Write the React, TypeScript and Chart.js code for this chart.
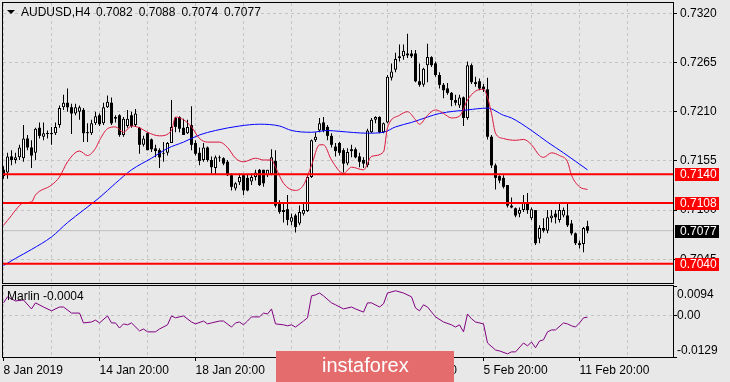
import React, { useEffect, useRef } from "react";
import { Chart, registerables } from "chart.js";

Chart.register(...registerables);

// ---------------- data ----------------
const SYMBOL = "AUDUSD,H4";
const LAST_OHLC = ["0.7082", "0.7088", "0.7074", "0.7077"];
const INDICATOR_LABEL = "Marlin -0.0004";
const WATERMARK = "instaforex";

const OPEN = [
  0.7145, 0.7142, 0.716, 0.7156, 0.7159, 0.7158, 0.718, 0.717, 0.7164, 0.7192,
  0.7182, 0.7185, 0.7186, 0.7186, 0.7195, 0.7215, 0.722, 0.7215, 0.7208, 0.721,
  0.7212, 0.7187, 0.7186, 0.7197, 0.7206, 0.7197, 0.7215, 0.722, 0.7202, 0.7206,
  0.7184, 0.7194, 0.7206, 0.7195, 0.7192, 0.7173, 0.7186, 0.7179, 0.7169, 0.7167,
  0.7163, 0.7164, 0.7175, 0.7203, 0.7204, 0.7192, 0.7186, 0.7195, 0.7175, 0.7164,
  0.7156, 0.717, 0.7156, 0.7147, 0.7158, 0.7158, 0.7154, 0.7139, 0.7124, 0.7131,
  0.7139, 0.7136, 0.7132, 0.7137, 0.7145, 0.7145, 0.7139, 0.714, 0.7155, 0.7108,
  0.7098, 0.7101, 0.7087, 0.7094, 0.7085, 0.7096, 0.7099, 0.7137, 0.7178, 0.7189,
  0.7198, 0.7193, 0.7183, 0.7171, 0.7175, 0.7167, 0.7152, 0.7168, 0.7168, 0.716,
  0.7156, 0.715, 0.7187, 0.7201, 0.7204, 0.7187, 0.7198, 0.7248, 0.7257, 0.727,
  0.7272, 0.7275, 0.7275, 0.7275, 0.7244, 0.724, 0.7262, 0.7271, 0.7264, 0.7251,
  0.724, 0.7236, 0.7231, 0.7223, 0.7217, 0.7226, 0.7203, 0.7262, 0.7243, 0.7244,
  0.7238, 0.7235, 0.7182, 0.715, 0.7138, 0.7136, 0.7128, 0.7105, 0.7102, 0.7096,
  0.71, 0.7109, 0.7091, 0.71, 0.7068, 0.708, 0.7077, 0.7091, 0.7096, 0.7089,
  0.7094, 0.7094, 0.7085, 0.7074, 0.7063, 0.7062, 0.7082,
];
const HIGH = [
  0.7149, 0.7164, 0.7167, 0.7164, 0.7173, 0.7195, 0.7184, 0.7178, 0.7192, 0.7198,
  0.7198, 0.7189, 0.7193, 0.7198, 0.7217, 0.7229, 0.7236, 0.7219, 0.7219, 0.7217,
  0.7214, 0.7197, 0.7201, 0.721, 0.7208, 0.722, 0.7228, 0.7226, 0.7206, 0.7207,
  0.7204, 0.7212, 0.721, 0.7213, 0.7193, 0.7183, 0.7187, 0.718, 0.7173, 0.7169,
  0.7176, 0.7176, 0.7223, 0.7204, 0.7205, 0.7202, 0.7201, 0.7216, 0.7178, 0.717,
  0.7175, 0.7171, 0.716, 0.7161, 0.7161, 0.7159, 0.7156, 0.7141, 0.7131, 0.7141,
  0.7139, 0.714, 0.7141, 0.7145, 0.7146, 0.7145, 0.7145, 0.7168, 0.7167, 0.7111,
  0.7109, 0.7117, 0.7096, 0.7096, 0.7105, 0.7108, 0.7139, 0.7179, 0.7187, 0.7203,
  0.7204, 0.7195, 0.7186, 0.7175, 0.7176, 0.7169, 0.7169, 0.7173, 0.717, 0.7164,
  0.7159, 0.7191, 0.7203, 0.7205, 0.7205, 0.7198, 0.7251, 0.7264, 0.7276, 0.7285,
  0.7285, 0.7297, 0.7279, 0.7279, 0.7264, 0.7259, 0.7286, 0.7272, 0.7266, 0.7254,
  0.7242, 0.7242, 0.7232, 0.7229, 0.7229, 0.7227, 0.7266, 0.7264, 0.7249, 0.7247,
  0.7241, 0.7248, 0.7184, 0.7152, 0.7139, 0.7139, 0.7128, 0.7114, 0.7103, 0.7103,
  0.7117, 0.7119, 0.7103, 0.71, 0.7083, 0.7091, 0.71, 0.71, 0.71, 0.7109,
  0.7103, 0.7108, 0.7089, 0.7075, 0.7066, 0.7081, 0.7088,
];
const LOW = [
  0.7135, 0.7135, 0.715, 0.7152, 0.7156, 0.7154, 0.7167, 0.7147, 0.7156, 0.718,
  0.7178, 0.718, 0.7173, 0.7184, 0.7192, 0.7212, 0.721, 0.7185, 0.7206, 0.7201,
  0.7176, 0.7176, 0.7184, 0.7195, 0.7194, 0.7195, 0.7214, 0.7195, 0.7198, 0.7182,
  0.7182, 0.7192, 0.7192, 0.7193, 0.7163, 0.7171, 0.7167, 0.7165, 0.7159, 0.7147,
  0.7154, 0.7161, 0.7175, 0.7187, 0.7187, 0.7184, 0.7185, 0.7167, 0.7161, 0.715,
  0.7154, 0.7154, 0.7141, 0.714, 0.7154, 0.715, 0.7138, 0.7122, 0.7122, 0.7128,
  0.7117, 0.7121, 0.7128, 0.7133, 0.7127, 0.7126, 0.7137, 0.7139, 0.7103, 0.7096,
  0.7086, 0.7083, 0.7083, 0.7075, 0.7083, 0.7094, 0.7098, 0.7136, 0.7176, 0.7187,
  0.7187, 0.7178, 0.717, 0.716, 0.7161, 0.7142, 0.715, 0.7159, 0.7158, 0.7148,
  0.7147, 0.7148, 0.7186, 0.7197, 0.7186, 0.7186, 0.7197, 0.7245, 0.7254, 0.7266,
  0.7268, 0.727, 0.727, 0.7243, 0.7238, 0.7238, 0.7243, 0.726, 0.7249, 0.7236,
  0.7225, 0.7229, 0.7216, 0.7217, 0.7214, 0.7194, 0.7201, 0.7241, 0.7238, 0.7234,
  0.7232, 0.7179, 0.7147, 0.7123, 0.713, 0.7124, 0.7103, 0.7102, 0.7092, 0.7092,
  0.7098, 0.7096, 0.7089, 0.7061, 0.7063, 0.7075, 0.7074, 0.7086, 0.7085, 0.7086,
  0.7092, 0.7081, 0.7072, 0.7061, 0.7057, 0.7053, 0.7074,
];
const CLOSE = [
  0.7138, 0.716, 0.7156, 0.7159, 0.717, 0.718, 0.717, 0.7161, 0.7191, 0.7183,
  0.7186, 0.7186, 0.7185, 0.7193, 0.7214, 0.722, 0.7215, 0.7208, 0.7215, 0.7215,
  0.7186, 0.7186, 0.7197, 0.7205, 0.7196, 0.7215, 0.7221, 0.7197, 0.7204, 0.7184,
  0.7202, 0.7202, 0.7194, 0.7208, 0.7173, 0.718, 0.7167, 0.7168, 0.7166, 0.7159,
  0.7164, 0.7175, 0.7193, 0.7193, 0.7191, 0.7184, 0.7193, 0.7173, 0.7163, 0.7155,
  0.717, 0.7156, 0.7148, 0.7159, 0.7159, 0.7152, 0.7139, 0.7126, 0.713, 0.7137,
  0.7122, 0.7122, 0.7137, 0.7142, 0.7128, 0.713, 0.7145, 0.7159, 0.7105, 0.7098,
  0.71, 0.7089, 0.7092, 0.7081, 0.7098, 0.71, 0.7137, 0.7178, 0.7182, 0.7197,
  0.7189, 0.7183, 0.7173, 0.7166, 0.7164, 0.7152, 0.7165, 0.7166, 0.7159, 0.7154,
  0.7152, 0.7189, 0.7201, 0.7204, 0.7187, 0.7197, 0.7249, 0.7255, 0.7269, 0.7272,
  0.7278, 0.7273, 0.7272, 0.7244, 0.724, 0.7258, 0.7271, 0.7262, 0.7251, 0.724,
  0.7234, 0.7231, 0.7223, 0.722, 0.7226, 0.7203, 0.7262, 0.7243, 0.7241, 0.7236,
  0.7235, 0.7182, 0.715, 0.7136, 0.7133, 0.7126, 0.7105, 0.7103, 0.7094, 0.71,
  0.7108, 0.71, 0.7101, 0.7063, 0.708, 0.7077, 0.7092, 0.7094, 0.7092, 0.71,
  0.71, 0.7083, 0.7074, 0.7063, 0.7061, 0.708, 0.7077,
];

// red (fast) moving average, read at these bar indices
const RED_MA_BARS = [
  0, 2, 3, 5, 7, 8, 12, 14, 16, 19, 21, 23, 24, 26, 28, 30, 32, 34, 36, 39,
  42, 43, 45, 47, 49, 51, 54, 56, 58, 60, 63, 65, 67, 68, 70, 73, 75, 77, 79, 80,
  82, 85, 87, 90, 92, 95, 96, 99, 101, 103, 104, 106, 108, 110, 112, 114, 116, 118, 120, 121,
  122, 123, 125, 128, 130, 132, 134, 135, 137, 139, 141, 142, 144, 146,
];
const RED_MA = [
  0.7083, 0.7094, 0.71, 0.7108, 0.7109, 0.7117, 0.7128, 0.7137, 0.7154, 0.7166,
  0.7161, 0.7169, 0.7178, 0.7191, 0.7193, 0.7187, 0.7194, 0.7192, 0.7187, 0.7183,
  0.7189, 0.7204, 0.7201, 0.7193, 0.718, 0.7176, 0.7176, 0.717, 0.7158, 0.7154,
  0.7158, 0.7156, 0.7156, 0.7148, 0.713, 0.7122, 0.7128, 0.715, 0.7173, 0.7173,
  0.7156, 0.7141, 0.7148, 0.7145, 0.716, 0.7165, 0.7192, 0.7206, 0.721, 0.7201,
  0.7196, 0.7206, 0.7212, 0.7208, 0.7203, 0.7205, 0.7223, 0.7233, 0.7235, 0.7226,
  0.7208, 0.7186, 0.718, 0.7178, 0.7179, 0.7173, 0.7161, 0.7159, 0.7164, 0.7161,
  0.7154, 0.7139, 0.7126, 0.7123,
];

// blue (slow) moving average
const BLUE_MA_BARS = [
  0, 3, 7, 12, 16, 20, 24, 28, 32, 37, 41, 45, 49, 53, 59, 64, 69, 72, 77, 81,
  84, 91, 95, 98, 102, 106, 109, 116, 121, 125, 127, 132, 136, 140, 146,
];
const BLUE_MA = [
  0.7038, 0.7046, 0.7056, 0.707, 0.7086, 0.71, 0.7114, 0.713, 0.7145, 0.7158,
  0.7169, 0.7176, 0.7184, 0.7189, 0.7194, 0.7196, 0.7194, 0.7189, 0.7187, 0.7189,
  0.7188, 0.7186, 0.7187, 0.7193, 0.7198, 0.7204, 0.7208, 0.7212, 0.7214, 0.7206,
  0.7203, 0.7189, 0.7176, 0.7164, 0.7145,
];

// Marlin oscillator
const MARLIN_BARS = [
  0, 1, 3, 5, 7, 8, 10, 12, 14, 15, 17, 19, 20, 22, 23, 24, 26, 27, 28, 29,
  30, 31, 32, 34, 35, 36, 38, 39, 41, 42, 43, 45, 47, 48, 50, 51, 52, 54, 55, 57,
  58, 59, 60, 61, 62, 64, 65, 66, 67, 68, 70, 71, 72, 73, 75, 76, 77, 78, 79, 80,
  82, 83, 85, 87, 88, 90, 91, 92, 94, 95, 96, 98, 100, 102, 103, 104, 105, 106, 108, 110,
  112, 113, 114, 115, 116, 117, 118, 120, 121, 123, 124, 126, 127, 128, 130, 131, 132, 133, 134, 135,
  136, 137, 138, 140, 141, 142, 143, 144, 145, 146,
];
const MARLIN = [
  0.0041, 0.006, 0.0047, 0.005, 0.0022, 0.0041, 0.0028, 0.0016, 0.0028, 0.0028,
  0.0009, 0.0009, -0.0022, -0.0019, -0.0013, -0.0022, 0.0, -0.0022, -0.0022, -0.0038,
  -0.0025, -0.0028, -0.0022, -0.0047, -0.0041, -0.005, -0.005, -0.0041, -0.0028, 0.0,
  -0.0006, 0.0, -0.0019, -0.0025, -0.0016, -0.0025, -0.0022, -0.0016, -0.0016, -0.0035,
  -0.0022, -0.0019, -0.0028, -0.0016, -0.0003, -0.0003, 0.0009, 0.0006, 0.0022, -0.0025,
  -0.0028, -0.0031, -0.0028, -0.0035, -0.0016, -0.0006, 0.0063, 0.0066, 0.0072, 0.0063,
  0.0041, 0.0035, 0.0022, 0.0028, 0.0022, 0.0012, 0.0041, 0.0041, 0.0028, 0.0038,
  0.0072, 0.0079, 0.0072, 0.006, 0.0025, 0.0016, 0.0035, 0.0028, -0.0003, -0.0019,
  -0.0028, -0.0035, -0.0028, -0.005, 0.0006, -0.0009, -0.0019, -0.0025, -0.0085, -0.0107,
  -0.011, -0.0119, -0.0113, -0.0113, -0.0085, -0.0094, -0.0082, -0.01, -0.0079, -0.0075,
  -0.005, -0.0044, -0.0044, -0.0022, -0.0025, -0.0031, -0.0035, -0.0022, -0.0006, -0.0004,
];

const LEVELS = [0.714, 0.7108, 0.704];
const BID = 0.7077;
const PRICE_TICKS = [0.7045, 0.71, 0.7155, 0.721, 0.7265, 0.732];
const OSC_TICKS = [-0.0129, 0, 0.0094];
const GRID_BARS = [0, 12, 24, 36, 48, 60, 72, 84, 96, 108, 120, 132, 144, 156];
const DATE_TICK_BARS = [0, 24, 48, 72, 96, 120, 144];
const DATE_LABELS = [
  "8 Jan 2019",
  "14 Jan 20:00",
  "18 Jan 20:00",
  "24 Jan 20:00",
  "30 Jan 20:00",
  "5 Feb 20:00",
  "11 Feb 20:00",
];

// ---------------- view ----------------
const X_MIN = -0.125;
const X_MAX = 167.375;
const PRICE_MIN = 0.70185;
const PRICE_MAX = 0.73315;
const OSC_MIN = -0.0129;
const OSC_MAX = 0.0094;

const FONT = "'Liberation Sans', Arial, sans-serif";
const BG = "#E8E8E8";
const GRID = "#C4C4C4";

const zeroPad = (s: any) => {
  s.paddingTop = 0;
  s.paddingBottom = 0;
  s.paddingLeft = 0;
  s.paddingRight = 0;
};

const mainDecor = {
  id: "mainDecor",
  afterDraw(chart: any) {
    const { ctx, chartArea: a, scales } = chart;
    const y = scales.y;
    ctx.save();
    ctx.strokeStyle = "#000";
    ctx.lineWidth = 1;
    ctx.strokeRect(a.left - 0.5, a.top - 0.5, a.right - a.left + 1, a.bottom - a.top + 1);

    ctx.font = `12px ${FONT}`;
    ctx.textBaseline = "middle";
    ctx.textAlign = "left";
    const box = (v: number, bg: string) => {
      const py = y.getPixelForValue(v);
      ctx.fillStyle = bg;
      ctx.fillRect(a.right + 2, Math.round(py) - 6, 44, 13);
      ctx.fillStyle = "#fff";
      ctx.fillText(v.toFixed(4), a.right + 7, Math.round(py) + 0.5);
    };
    LEVELS.forEach((v) => box(v, "#FF0000"));
    box(BID, "#000");

    // title
    ctx.fillStyle = "#000";
    ctx.beginPath();
    ctx.moveTo(7, 10);
    ctx.lineTo(15, 10);
    ctx.lineTo(11, 14);
    ctx.closePath();
    ctx.fill();
    ctx.fillText(SYMBOL, 21, 12.5);
    LAST_OHLC.forEach((t, i) => ctx.fillText(t, 96 + i * 42.7, 12.5));
    ctx.restore();
  },
};

const subDecor = {
  id: "subDecor",
  afterDraw(chart: any) {
    const { ctx, chartArea: a, scales } = chart;
    const y = scales.y;
    ctx.save();
    ctx.strokeStyle = "#000";
    ctx.lineWidth = 1;
    ctx.strokeRect(a.left - 0.5, a.top - 0.5, a.right - a.left + 1, a.bottom - a.top + 1);

    ctx.font = `12px ${FONT}`;
    ctx.textBaseline = "middle";
    ctx.textAlign = "left";
    ctx.fillStyle = "#000";
    OSC_TICKS.forEach((v) => {
      let py = y.getPixelForValue(v);
      py = Math.min(Math.max(py, a.top + 8.5), a.bottom - 6.5);
      ctx.fillText(v === 0 ? "0.00" : v.toFixed(4), a.right + 4, py);
    });
    ctx.fillText(INDICATOR_LABEL, 7, 12.7);

    // watermark
    ctx.fillStyle = "rgb(228,108,108)";
    ctx.fillRect(276, 67, 178, 31);
    ctx.fillStyle = "#fff";
    ctx.font = `20px ${FONT}`;
    ctx.textBaseline = "alphabetic";
    ctx.fillText(WATERMARK, 322, 88);
    ctx.restore();
  },
};

export default function App() {
  const mainRef = useRef<HTMLCanvasElement>(null);
  const subRef = useRef<HTMLCanvasElement>(null);

  useEffect(() => {
    const up = OPEN.map((o, i) => CLOSE[i] >= o);
    const lineDs = (data: any[], color: string, width: number, order: number) => ({
      type: "line" as const,
      data,
      borderColor: color,
      borderWidth: width,
      pointRadius: 0,
      cubicInterpolationMode: "monotone" as const,
      order,
    });

    const main = new Chart(mainRef.current!, {
      type: "bar",
      data: {
        datasets: [
          lineDs([{ x: X_MIN, y: BID }, { x: X_MAX, y: BID }], "#BDBDBD", 1, 6),
          {
            type: "bar",
            data: HIGH.map((h, i) => ({ x: i, y: [LOW[i], h] })),
            backgroundColor: "#000",
            borderWidth: 0,
            barThickness: 1,
            grouped: false,
            inflateAmount: 0,
            order: 5,
          } as any,
          {
            type: "bar",
            data: OPEN.map((o, i) => ({ x: i, y: [o, CLOSE[i]] })),
            backgroundColor: up.map((u) => (u ? "#FFFFFF" : "#000000")),
            borderColor: "#000",
            borderWidth: up.map((u) => (u ? 1 : 0)),
            borderSkipped: false,
            barThickness: 3,
            grouped: false,
            inflateAmount: 0,
            minBarLength: 1,
            order: 4,
          } as any,
          lineDs(BLUE_MA_BARS.map((b, i) => ({ x: b, y: BLUE_MA[i] })), "#0000FF", 1, 3),
          lineDs(RED_MA_BARS.map((b, i) => ({ x: b, y: RED_MA[i] })), "#DC143C", 1, 2),
          ...LEVELS.map((v) =>
            lineDs([{ x: X_MIN, y: v }, { x: X_MAX, y: v }], "#FF0000", 2, 1)
          ),
        ] as any,
      },
      options: {
        animation: false,
        responsive: false,
        devicePixelRatio: 1,
        events: [],
        layout: { padding: { left: 3, top: 3, right: 0, bottom: 1 }, autoPadding: false },
        plugins: { legend: { display: false }, tooltip: { enabled: false } },
        scales: {
          x: {
            type: "linear",
            min: X_MIN,
            max: X_MAX,
            offset: false,
            afterBuildTicks: (s: any) => {
              s.ticks = GRID_BARS.map((v) => ({ value: v }));
            },
            afterFit: (s: any) => {
              s.height = 0;
              zeroPad(s);
            },
            ticks: { display: false },
            grid: { color: GRID, drawTicks: false, offset: false, lineWidth: 1 },
            border: { display: false, dash: [3, 3] },
          },
          y: {
            position: "right",
            min: PRICE_MIN,
            max: PRICE_MAX,
            beginAtZero: false,
            afterBuildTicks: (s: any) => {
              s.ticks = PRICE_TICKS.map((v) => ({ value: v }));
            },
            afterFit: (s: any) => {
              s.width = 57;
              zeroPad(s);
            },
            ticks: {
              color: "#000",
              padding: 3,
              font: { family: FONT, size: 12 },
              callback: (v: any) => Number(v).toFixed(4),
            },
            grid: { color: GRID, tickColor: "#000", tickLength: 4, lineWidth: 1 },
            border: { display: false, dash: [3, 3] },
          },
        },
      } as any,
      plugins: [mainDecor],
    });

    const sub = new Chart(subRef.current!, {
      type: "line",
      data: {
        datasets: [
          {
            data: MARLIN_BARS.map((b, i) => ({ x: b, y: MARLIN[i] })),
            borderColor: "#800080",
            borderWidth: 1,
            pointRadius: 0,
            tension: 0,
          },
        ],
      },
      options: {
        animation: false,
        responsive: false,
        devicePixelRatio: 1,
        events: [],
        layout: { padding: { left: 3, top: 2, right: 0, bottom: 0 }, autoPadding: false },
        plugins: { legend: { display: false }, tooltip: { enabled: false } },
        scales: {
          x: {
            type: "linear",
            min: X_MIN,
            max: X_MAX,
            offset: false,
            afterBuildTicks: (s: any) => {
              s.ticks = GRID_BARS.map((v) => ({ value: v }));
            },
            afterFit: (s: any) => {
              s.height = 25;
              zeroPad(s);
            },
            ticks: {
              autoSkip: false,
              maxRotation: 0,
              minRotation: 0,
              align: "start",
              padding: 2,
              color: "#000",
              font: { family: FONT, size: 12 },
              callback: (v: any) => {
                const k = DATE_TICK_BARS.indexOf(Number(v));
                return k >= 0 ? DATE_LABELS[k] : "";
              },
            },
            grid: {
              color: GRID,
              offset: false,
              tickLength: 4,
              tickColor: (c: any) =>
                c.tick && DATE_TICK_BARS.includes(c.tick.value) ? "#000" : "rgba(0,0,0,0)",
            },
            border: { display: false, dash: [3, 3] },
          },
          y: {
            position: "right",
            min: OSC_MIN,
            max: OSC_MAX,
            afterBuildTicks: (s: any) => {
              s.ticks = OSC_TICKS.map((v) => ({ value: v }));
            },
            afterFit: (s: any) => {
              s.width = 57;
              zeroPad(s);
            },
            ticks: { display: false },
            grid: {
              color: (c: any) => (c.tick && c.tick.value === 0 ? GRID : "rgba(0,0,0,0)"),
              tickColor: "#000",
              tickLength: 4,
            },
            border: { display: false, dash: [3, 3] },
          },
        },
      } as any,
      plugins: [subDecor],
    });

    return () => {
      main.destroy();
      sub.destroy();
    };
  }, []);

  return (
    <div
      style={{
        position: "fixed",
        left: 0,
        top: 0,
        width: 730,
        height: 382,
        background: BG,
        overflow: "hidden",
      }}
    >
      <canvas
        ref={mainRef}
        width={730}
        height={284}
        style={{ position: "absolute", left: 0, top: 0, width: 730, height: 284 }}
      />
      <canvas
        ref={subRef}
        width={730}
        height={98}
        style={{ position: "absolute", left: 0, top: 284, width: 730, height: 98 }}
      />
    </div>
  );
}
